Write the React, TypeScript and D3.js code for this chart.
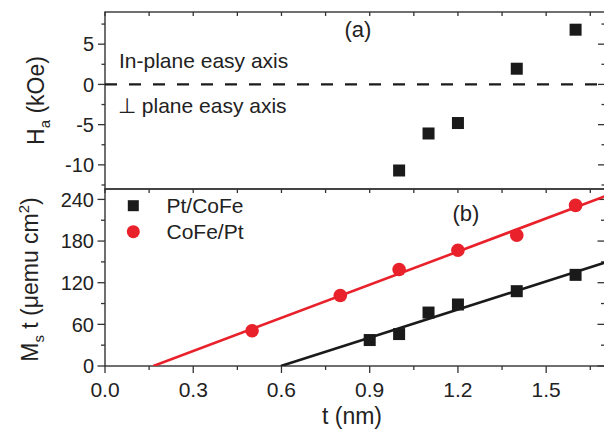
import React from "react";
import * as d3 from "d3";

// Panel (a): anisotropy field of Pt/CoFe vs. CoFe thickness
const anisoThickness = [1.0, 1.1, 1.2, 1.4, 1.6];
const anisoField = [-10.7, -6.1, -4.8, 1.95, 6.8];

// Panel (b): areal moment Ms·t vs. thickness for both stackings
const ptCoFeThickness = [0.9, 1.0, 1.1, 1.2, 1.4, 1.6];
const ptCoFeMst = [37.4, 46, 77, 88.6, 107.8, 131.3];
const coFePtThickness = [0.5, 0.8, 1.0, 1.2, 1.4, 1.6];
const coFePtMst = [50.7, 101.6, 139, 166.7, 188.3, 231.4];

const xTickValues = [0, 0.3, 0.6, 0.9, 1.2, 1.5];
const aTickValues = [-10, -5, 0, 5];
const bTickValues = [0, 60, 120, 180, 240];

const W = 604;
const H = 431;
const left = 105;
const right = 605;
const topA = 12;
const mid = 189;
const bottom = 366;

const RED = "#e8212b";
const BLACK = "#1a1a1a";
const FRAME = "#333";
const FONT = "'Liberation Sans', Arial, Helvetica, sans-serif";

const x = d3.scaleLinear().domain([0, 1.7]).range([left, right]);
const yA = d3.scaleLinear().domain([-13, 9]).range([mid, topA]);
const yB = d3.scaleLinear().domain([0, 255]).range([bottom, mid]);

// ordinary least-squares fit, returns [slope, intercept]
function fit(xs: number[], ys: number[]): [number, number] {
  const mx = d3.mean(xs)!;
  const my = d3.mean(ys)!;
  let sxy = 0;
  let sxx = 0;
  xs.forEach((v, i) => {
    sxy += (v - mx) * (ys[i] - my);
    sxx += (v - mx) * (v - mx);
  });
  const k = sxy / sxx;
  return [k, my - k * mx];
}

function fitLine(xs: number[], ys: number[]) {
  const [k, b] = fit(xs, ys);
  const x0 = -b / k;
  const x1 = 1.7;
  const line = d3
    .line<[number, number]>()
    .x((d) => x(d[0]))
    .y((d) => yB(d[1]));
  return line([
    [x0, 0],
    [x1, k * x1 + b],
  ])!;
}

function range(a: number, b: number, step: number) {
  const out: number[] = [];
  for (let v = a; v <= b + 1e-9; v += step) out.push(+v.toFixed(4));
  return out;
}

const xMinor = range(0, 1.7, 0.15);
const aMinor = range(-12.5, 7.5, 2.5);
const bMinor = range(0, 255, 30);

export default function App() {
  const tickFont = 20;
  return (
    <svg
      width={W}
      height={H}
      style={{ position: "absolute", left: 0, top: 0, background: "#fff" }}
      fontFamily={FONT}
    >
      <defs>
        <clipPath id="panelB">
          <rect x={left} y={mid} width={right - left} height={bottom - mid} />
        </clipPath>
      </defs>

      {/* frames */}
      <rect x={left} y={topA} width={right - left} height={mid - topA} fill="none" stroke={FRAME} strokeWidth={1.4} />
      <rect x={left} y={mid} width={right - left} height={bottom - mid} fill="none" stroke={FRAME} strokeWidth={1.4} />

      {/* panel (a) ticks */}
      {aMinor.map((v) => {
        const major = Math.abs(v % 5) < 1e-6;
        const len = major ? 7 : 3.5;
        return (
          <g key={"a" + v} stroke={FRAME} strokeWidth={1.3}>
            <line x1={left - len} x2={left} y1={yA(v)} y2={yA(v)} />
            <line x1={right - len} x2={right} y1={yA(v)} y2={yA(v)} />
          </g>
        );
      })}
      {xMinor.map((v) => (
        <g key={"xt" + v} stroke={FRAME} strokeWidth={1.3}>
          <line x1={x(v)} x2={x(v)} y1={topA} y2={topA + 4} />
          <line x1={x(v)} x2={x(v)} y1={mid} y2={mid + 4} />
        </g>
      ))}
      {aTickValues.map((v) => (
        <text key={"al" + v} x={94} y={yA(v)} dy="0.36em" textAnchor="end" fontSize={tickFont} fill="#222">
          {v}
        </text>
      ))}

      {/* panel (b) ticks */}
      {bMinor.map((v) => {
        const major = v % 60 === 0;
        const len = major ? 7.5 : 4;
        return (
          <g key={"b" + v} stroke={FRAME} strokeWidth={1.3}>
            <line x1={left - len} x2={left} y1={yB(v)} y2={yB(v)} />
            <line x1={right - len} x2={right} y1={yB(v)} y2={yB(v)} />
          </g>
        );
      })}
      {bTickValues.map((v) => (
        <text key={"bl" + v} x={94} y={yB(v)} dy="0.36em" textAnchor="end" fontSize={tickFont} fill="#222">
          {v}
        </text>
      ))}
      {xMinor.map((v, i) => {
        const len = i % 2 === 0 ? 7 : 4;
        return <line key={"xb" + v} x1={x(v)} x2={x(v)} y1={bottom} y2={bottom + len} stroke={FRAME} strokeWidth={1.3} />;
      })}
      {xTickValues.map((v) => (
        <text key={"xl" + v} x={x(v)} y={396.5} textAnchor="middle" fontSize={21} fill="#222">
          {v.toFixed(1)}
        </text>
      ))}

      {/* axis titles */}
      <text x={352} y={424} textAnchor="middle" fontSize={23} fill="#222">
        t (nm)
      </text>
      <text transform={`translate(43.5, ${(topA + mid) / 2}) rotate(-90)`} textAnchor="middle" fontSize={23} fill="#222">
        H<tspan fontSize={15} dy={6}>a</tspan>
        <tspan dy={-6}> (kOe)</tspan>
      </text>
      <text transform={`translate(37.5, ${(mid + bottom) / 2 + 2}) rotate(-90)`} textAnchor="middle" fontSize={23} fill="#222">
        M<tspan fontSize={15} dy={6}>s</tspan>
        <tspan dy={-6}> t (μemu cm</tspan>
        <tspan fontSize={15} dy={-9}>2</tspan>
        <tspan dy={9}>)</tspan>
      </text>

      {/* panel (a) content */}
      <line x1={left} x2={right} y1={yA(0)} y2={yA(0)} stroke={BLACK} strokeWidth={2.4} strokeDasharray="12 12" />
      <text x={119} y={68} fontSize={21} fill="#222">
        In-plane easy axis
      </text>
      <text x={118} y={113} fontSize={21} fill="#222">
        ⊥ plane easy axis
      </text>
      <text x={358} y={37} textAnchor="middle" fontSize={22} fill="#222">
        (a)
      </text>
      {anisoThickness.map((t, i) => (
        <rect key={"sa" + i} x={x(t) - 6} y={yA(anisoField[i]) - 6} width={12} height={12} fill={BLACK} />
      ))}

      {/* panel (b) content */}
      <g clipPath="url(#panelB)">
        <path d={fitLine(coFePtThickness, coFePtMst)} stroke={RED} strokeWidth={2.6} fill="none" />
        <path d={fitLine(ptCoFeThickness, ptCoFeMst)} stroke={BLACK} strokeWidth={2.6} fill="none" />
      </g>
      {ptCoFeThickness.map((t, i) => (
        <rect key={"sb" + i} x={x(t) - 6} y={yB(ptCoFeMst[i]) - 6} width={12} height={12} fill={BLACK} />
      ))}
      {coFePtThickness.map((t, i) => (
        <circle key={"cb" + i} cx={x(t)} cy={yB(coFePtMst[i])} r={6.8} fill={RED} />
      ))}
      <text x={466} y={220.5} textAnchor="middle" fontSize={22} fill="#222">
        (b)
      </text>

      {/* legend */}
      <rect x={133.3 - 5.5} y={205.7 - 5.5} width={11} height={11} fill={BLACK} />
      <text x={166.5} y={213} fontSize={21} fill="#222">
        Pt/CoFe
      </text>
      <circle cx={133.3} cy={231.7} r={6.5} fill={RED} />
      <text x={166.5} y={239} fontSize={21} fill="#222">
        CoFe/Pt
      </text>
    </svg>
  );
}
